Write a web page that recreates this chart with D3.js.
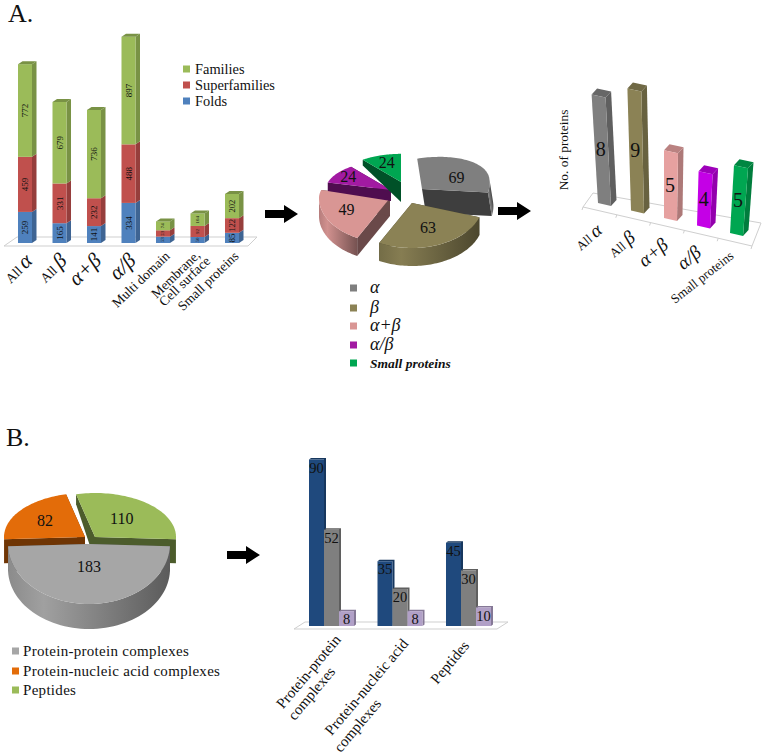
<!DOCTYPE html>
<html>

<head>
  <meta charset="utf-8">
  <style>
    body { margin: 0; background: #fff; }
    text { font-family: "Liberation Serif", serif; fill: #111; }
  </style>
</head>

<body>
  <div id="chart"></div>
  <script src="https://d3js.org/d3.v7.min.js"></script>
  <script>
    // panel A, stacked bars
    var foldClasses = ['All α', 'All β', 'α+β', 'α/β', 'Multi domain', 'Membrane,|Cell surface', 'Small proteins'];
    var folds = [259, 165, 141, 334, 53, 50, 85];
    var superfamilies = [459, 331, 232, 488, 53, 92, 122];
    var families = [772, 679, 736, 897, 74, 104, 202];
    var stackNames = ['Folds', 'Superfamilies', 'Families'];

    // panel A, pie
    var pieAnames = ['α', 'β', 'α+β', 'α/β', 'Small proteins'];
    var pieAvalues = [69, 63, 49, 24, 24];

    // panel A, right bars
    var proteinClasses = ['All α', 'All β', 'α+β', 'α/β', 'Small proteins'];
    var proteinCounts = [8, 9, 5, 4, 5];

    // panel B, pie
    var pieBnames = ['Peptides', 'Protein-protein complexes', 'Protein-nucleic acid complexes'];
    var pieBvalues = [110, 183, 82];

    // panel B, grouped bars
    var complexGroups = ['Protein-protein complexes', 'Protein-nucleic acid complexes', 'Peptides'];
    var seriesOne = [90, 35, 45];
    var seriesTwo = [52, 20, 30];
    var seriesThree = [8, 8, 10];

    var svg = d3.select('#chart').append('svg')
      .attr('width', 765)
      .attr('height', 756)
      .style('display', 'block');
    var defs = svg.append('defs');
    var line = d3.line();

    // greek letters are set a bit larger than the latin text around them
    function richText(sel, str, size, greekSize) {
      sel.style('font-size', size + 'px');
      str.split(/([αβ+\/]+)/).filter(function (s) { return s !== ''; }).forEach(function (part) {
        sel.append('tspan')
          .style('font-size', (/[αβ]/.test(part) ? greekSize : size) + 'px')
          .style('font-style', /[αβ]/.test(part) ? 'italic' : null)
          .text(part);
      });
    }

    function floor(g, pts) {
      g.append('path')
        .attr('d', line(pts) + 'Z')
        .attr('fill', '#fff')
        .attr('stroke', '#cfcfcf')
        .attr('stroke-width', 1);
    }

    function arrow(x, y) {
      svg.append('path')
        .attr('d', 'M' + x + ',' + (y - 4) + 'h19v-5l14,9l-14,9v-5h-19z')
        .attr('fill', '#000');
    }

    function legend(items, x, textX, ys, colors, size, greekSize, spacing, italicLast) {
      items.forEach(function (name, i) {
        svg.append('rect')
          .attr('x', x).attr('y', ys[i] - 3.5)
          .attr('width', 7).attr('height', 7)
          .attr('fill', colors[i]);
        var t = svg.append('text')
          .attr('x', textX).attr('y', ys[i] + 4.5)
          .style('letter-spacing', spacing + 'px');
        richText(t, name, size, greekSize);
        if (italicLast && i === items.length - 1) t.style('font-style', 'italic').style('font-weight', 'bold');
      });
    }

    svg.append('text').attr('x', 8).attr('y', 22).style('font-size', '26px').text('A.');
    svg.append('text').attr('x', 6).attr('y', 446).style('font-size', '26px').text('B.');

    /* ---------- A, stacked bars ---------- */
    var stackColors = ['#4f81bd', '#c0504d', '#9bbb59'];
    var stackG = svg.append('g');
    var xStack = d3.scaleBand().domain(foldClasses).range([18, 239]).paddingInner(0.594).paddingOuter(0);
    var yStack = d3.scaleLinear().domain([0, 1800]).range([243, 27]);
    var stackRows = foldClasses.map(function (c, i) {
      return { cls: c, Folds: folds[i], Superfamilies: superfamilies[i], Families: families[i] };
    });
    var stacked = d3.stack().keys(stackNames)(stackRows);
    var sd = [4.5, -3];

    floor(stackG, [[4, 246], [17, 237], [257, 237], [248, 246]]);

    stacked.forEach(function (layer, k) {
      var col = d3.color(stackColors[k]);
      layer.forEach(function (d) {
        var x = xStack(d.data.cls), w = xStack.bandwidth(), y0 = yStack(d[0]), y1 = yStack(d[1]);
        stackG.append('path')
          .attr('d', line([[x + w, y0], [x + w + sd[0], y0 + sd[1]], [x + w + sd[0], y1 + sd[1]], [x + w, y1]]) + 'Z')
          .attr('fill', col.darker(0.7));
        stackG.append('rect')
          .attr('x', x).attr('y', y1).attr('width', w).attr('height', y0 - y1)
          .attr('fill', col);
        if (k === 2) {
          stackG.append('path')
            .attr('d', line([[x, y1], [x + sd[0], y1 + sd[1]], [x + w + sd[0], y1 + sd[1]], [x + w, y1]]) + 'Z')
            .attr('fill', col.darker(0.7));
        }
        var small = d.data.Folds < 60;
        stackG.append('text')
          .attr('transform', 'translate(' + (x + w / 2 + (small ? 1.5 : 3)) + ',' + ((y0 + y1) / 2) + ') rotate(-90)')
          .attr('text-anchor', 'middle')
          .style('font-size', (small ? 5 : (d.data.cls === 'Small proteins' && k !== 0 ? 8.5 : 9)) + 'px')
          .text(d[1] - d[0]);
      });
    });

    foldClasses.forEach(function (c, i) {
      var dx = xStack(c) + xStack.bandwidth() / 2;
      if (c.indexOf('|') >= 0) {
        c.split('|').forEach(function (part, j) {
          var t = stackG.append('text')
            .attr('transform', 'translate(' + (dx + 3.5 + j * 10) + ',' + (256 + j * 6) + ') rotate(-44)')
            .attr('text-anchor', 'end');
          richText(t, part, 13.5, 18);
        });
        return;
      }
      var t = stackG.append('text')
        .attr('transform', 'translate(' + (dx + (i < 4 ? 8.5 : 7.5)) + ',' + (i < 4 ? 262 : 257) + ') rotate(-44)')
        .attr('text-anchor', 'end');
      richText(t, c, 13.5, 21);
    });

    legend(stackNames.slice().reverse(), 183, 195, [69, 85, 101], stackColors.slice().reverse(), 14.4, 14.4, 0);

    arrow(265, 214);
    arrow(498, 211);
    arrow(227, 555);

    /* ---------- pies ---------- */
    function drawPie(values, o) {
      var g = svg.append('g');
      var arcs = d3.pie().sort(null).startAngle(o.start).endAngle(o.start + 2 * Math.PI)(values);

      function pt(a, f) {
        var c = Math.cos(a);
        return [f * o.rx * Math.sin(a), -f * c * (c > 0 ? o.ryBack : o.ryFront)];
      }
      // the far rim of a slice shows less wall than the near rim
      function drop(a, f, t) {
        return t * (1 - o.shrink * f * Math.max(0, Math.cos(a)));
      }

      o.order.forEach(function (i) {
        var arc = arcs[i], col = d3.color(o.colors[i]), t = o.thick[i];
        var sc = o.reach ? o.reach[i] : 1;
        var sg = g.append('g')
          .attr('transform', 'translate(' + o.apex[i] + ') rotate(' + (o.tilt ? o.tilt[i] : 0) + ')');
        var angles = d3.range(0, 61).map(d3.scaleLinear().domain([0, 60]).range([arc.startAngle, arc.endAngle]));

        [arc.startAngle, arc.endAngle].forEach(function (a) {
          var p = pt(a, sc);
          sg.append('path')
            .attr('d', line([[0, 0], p, [p[0], p[1] + drop(a, 1, t)], [0, t]]) + 'Z')
            .attr('fill', col.darker(2));
        });

        var front = angles.filter(function (a) { return Math.cos(a) <= 0.02; });
        if (front.length > 1) {
          var gid = 'wall' + o.id + i;
          var grad = defs.append('linearGradient').attr('id', gid);
          grad.append('stop').attr('offset', '0').attr('stop-color', col.darker(0.5));
          grad.append('stop').attr('offset', '0.22').attr('stop-color', col.darker(0.1));
          grad.append('stop').attr('offset', '1').attr('stop-color', col.darker(1.7));
          var upper = front.map(function (a) { return pt(a, sc); });
          var lower = front.map(function (a) { var p = pt(a, sc); return [p[0], p[1] + t]; }).reverse();
          sg.append('path')
            .attr('d', line(upper.concat(lower)) + 'Z')
            .attr('fill', 'url(#' + gid + ')');
        }

        sg.append('path')
          .attr('d', line([[0, 0]].concat(angles.map(function (a) { return pt(a, sc); }))) + 'Z')
          .attr('fill', col);

        var mid = (arc.startAngle + arc.endAngle) / 2;
        var lp = pt(mid, o.labelAt[i]);
        g.append('text')
          .attr('x', o.apex[i][0] + lp[0])
          .attr('y', o.apex[i][1] + lp[1] + 5)
          .attr('text-anchor', 'middle')
          .style('font-size', o.fontSize + 'px')
          .text(arc.data);
      });
    }

    var pieAcolors = ['#7f7f7f', '#8b8255', '#d99694', '#a21aa2', '#00a651'];
    drawPie(pieAvalues, {
      id: 'a', start: 0, rx: 71, ryBack: 32, ryFront: 45, shrink: 0.9, fontSize: 16,
      labelAt: [0.6, 0.6, 0.67, 0.72, 0.62],
      apex: [[422, 189], [412, 203], [390, 198], [391, 190], [401, 182]],
      tilt: [-9, 0, 0, 0, 0],
      reach: [0.96, 1, 1, 0.92, 0.88],
      thick: [24, 18, 18, 11, 20],
      order: [0, 2, 3, 4, 1],
      colors: pieAcolors
    });
    legend(pieAnames, 350, 370, [288, 308, 326, 345, 363], pieAcolors, 13.5, 18, 0, true);

    var pieBcolors = ['#9bbb59', '#a6a6a6', '#e36c09'];
    drawPie(pieBvalues, {
      id: 'b', start: -13.5 * Math.PI / 180, rx: 81, ryBack: 44, ryFront: 60, shrink: 0.6, fontSize: 16,
      labelAt: [0.52, 0.38, 0.62],
      apex: [[95, 537], [89, 544], [85, 537]],
      thick: [24, 25, 24],
      order: [0, 2, 1],
      colors: pieBcolors
    });
    legend([pieBnames[1], pieBnames[2], pieBnames[0]], 12, 23, [651, 671, 690],
      [pieBcolors[1], pieBcolors[2], pieBcolors[0]], 15, 15, 0.3);

    /* ---------- A, right bars ---------- */
    var proteinColors = ['#7f7f7f', '#8b8255', '#e6a1a0', '#c400e6', '#00a651'];
    var protG = svg.append('g');
    var xProt = d3.scalePoint().domain(proteinClasses).range([598, 730]);
    var baseProt = d3.scalePoint().domain(proteinClasses).range([203, 233]);
    var leanProt = d3.scalePoint().domain(proteinClasses).range([-0.8, 0.8]);
    var hProt = d3.scaleLinear().domain([0, 9]).range([0, 122]);

    floor(protG, [[583, 207], [593, 193], [761, 223], [752, 246]]);
    d3.range(0, 6).map(d3.scaleLinear().domain([0, 5]).range([583, 752])).forEach(function (tx) {
      var ty = 207 + (tx - 583) * 39 / 169;
      protG.append('line')
        .attr('x1', tx).attr('y1', ty).attr('x2', tx - 1).attr('y2', ty + 3)
        .attr('stroke', '#cfcfcf');
    });

    proteinClasses.forEach(function (c, i) {
      var col = d3.color(proteinColors[i]), v = proteinCounts[i];
      var bl = [xProt(c), baseProt(c)], br = [bl[0] + 13, bl[1] + 3];
      var tl = [bl[0] + leanProt(c) * v, bl[1] - hProt(v)], tr = [tl[0] + 14, tl[1] + 3];
      var back = [5.5, -6];
      protG.append('path')
        .attr('d', line([br, [br[0] + back[0], br[1] + back[1]], [tr[0] + back[0], tr[1] + back[1]], tr]) + 'Z')
        .attr('fill', col.darker(0.8));
      protG.append('path')
        .attr('d', line([tl, [tl[0] + back[0], tl[1] + back[1]], [tr[0] + back[0], tr[1] + back[1]], tr]) + 'Z')
        .attr('fill', col.darker(0.6));
      protG.append('path')
        .attr('d', line([bl, br, tr, tl]) + 'Z')
        .attr('fill', col);
      protG.append('text')
        .attr('x', (bl[0] + tr[0]) / 2 - 1)
        .attr('y', (tl[1] + br[1]) / 2 + 6)
        .attr('text-anchor', 'middle')
        .style('font-size', '20px')
        .text(v);
      var t = protG.append('text')
        .attr('transform', 'translate(' + (bl[0] + (i === 4 ? 4.5 : 5.5)) + ',' + (bl[1] + (i === 4 ? 24.5 : 29)) + ') rotate(' + (i === 4 ? -38 : -40) + ')')
        .attr('text-anchor', 'end');
      richText(t, c, 13, 19);
    });

    svg.append('text')
      .attr('transform', 'translate(568,150) rotate(-90)')
      .attr('text-anchor', 'middle')
      .style('font-size', '13.4px')
      .text('No. of proteins');

    /* ---------- B, grouped bars ---------- */
    var barBcolors = ['#1f497d', '#7f7f7f', '#b1a0c7'];
    var barG = svg.append('g');
    var x0 = d3.scaleBand().domain(complexGroups).range([309, 491]).paddingInner(0.343).paddingOuter(0);
    var x1 = d3.scaleBand().domain([0, 1, 2]).range([0, x0.bandwidth()]);
    var yB = d3.scaleLinear().domain([0, 100]).range([626, 441]);

    floor(barG, [[294, 629], [305, 622], [508, 622], [497, 629]]);

    [seriesOne, seriesTwo, seriesThree].forEach(function (series, s) {
      var col = d3.color(barBcolors[s]);
      series.forEach(function (v, i) {
        var x = x0(complexGroups[i]) + x1(s), w = x1.bandwidth(), y = yB(v);
        barG.append('path')
          .attr('d', line([[x, y], [x + 2, y - 1.5], [x + w + 2, y - 1.5], [x + w + 2, yB(0) - 1.5], [x + w, yB(0)], [x + w, y]]) + 'Z')
          .attr('fill', col.darker(0.8));
        barG.append('rect')
          .attr('x', x).attr('y', y).attr('width', w).attr('height', yB(0) - y)
          .attr('fill', col);
      });
    });
    // labels go on after all bars so the next bar's side does not cover them
    [seriesOne, seriesTwo, seriesThree].forEach(function (series, s) {
      series.forEach(function (v, i) {
        barG.append('text')
          .attr('x', x0(complexGroups[i]) + x1(s) + x1.bandwidth() / 2)
          .attr('y', yB(v) + 13)
          .attr('text-anchor', 'middle')
          .style('font-size', '14.5px')
          .text(v);
      });
    });

    var complexLines = [['Protein-protein', 'complexes'], ['Protein-nucleic acid', 'complexes'], ['Peptides']];
    var lineShift = [[[10, 640], [4.5, 672]], [[9, 644], [-18, 704]], [[1.5, 646]]];
    complexGroups.forEach(function (c, i) {
      var cx = x0(c) + x0.bandwidth() / 2;
      complexLines[i].forEach(function (part, j) {
        barG.append('text')
          .attr('transform', 'translate(' + (cx + lineShift[i][j][0]) + ',' + lineShift[i][j][1] + ') rotate(-50)')
          .attr('text-anchor', 'end')
          .style('font-size', '15px')
          .text(part);
      });
    });
  </script>
</body>

</html>
